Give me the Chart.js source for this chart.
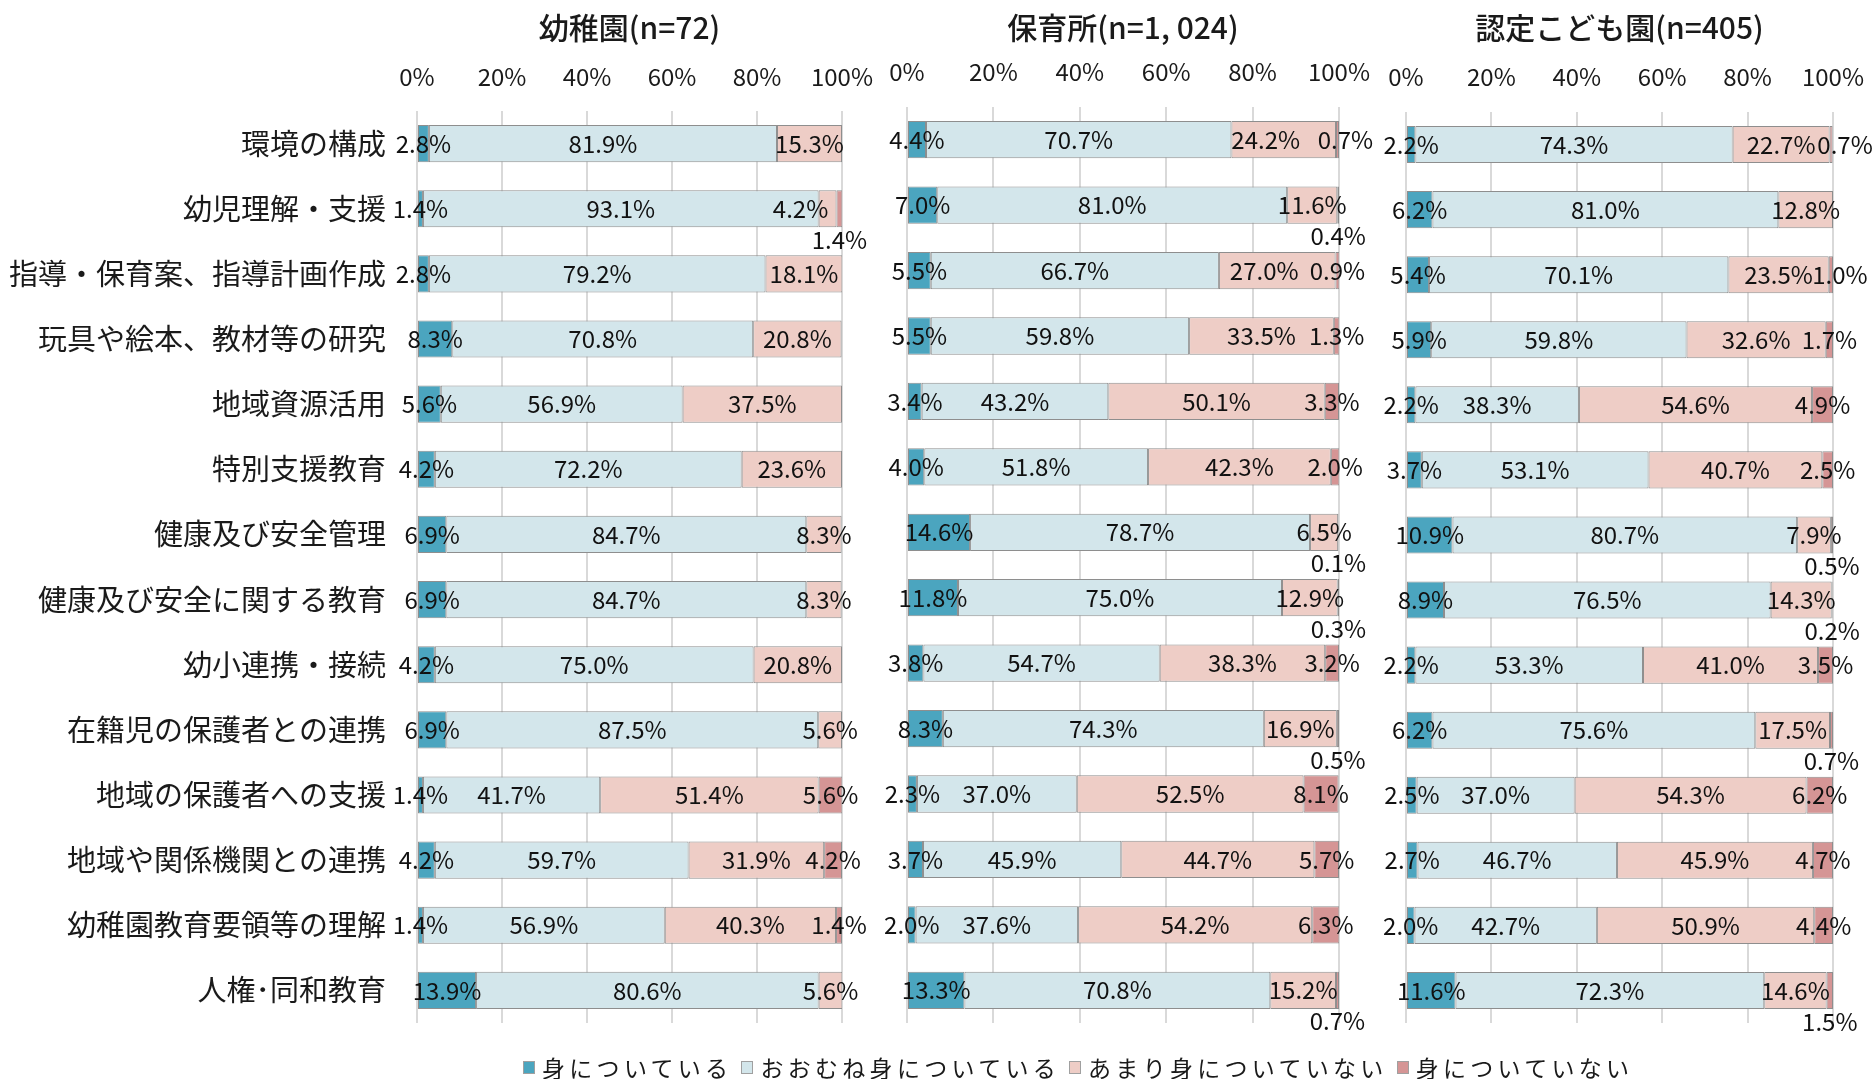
<!DOCTYPE html>
<html><head><meta charset="utf-8">
<script src="https://cdn.jsdelivr.net/npm/chart.js@4.4.1/dist/chart.umd.min.js"></script>
<style>
html,body{margin:0;padding:0;background:#fff;width:1876px;height:1079px;overflow:hidden;font-family:"Noto Sans CJK JP",sans-serif;}
.panel{position:absolute;top:0;height:1079px;}
#legend{position:absolute;left:523px;top:1051px;height:32px;display:flex;align-items:center;white-space:nowrap;}
#legend .item{display:flex;align-items:center;margin-right:9px;}
#legend .box{width:12px;height:13px;box-sizing:border-box;border:1px solid #a0a0a0;margin-right:7px;}
#legend .txt{font-size:23px;letter-spacing:4.3px;color:#1a1a1a;line-height:32px;}
</style></head><body>
<div class="panel" style="left:0;width:875px"><canvas id="c1" width="875" height="1079"></canvas></div>
<div class="panel" style="left:870px;width:530px"><canvas id="c2" width="530" height="1079"></canvas></div>
<div class="panel" style="left:1376px;width:500px"><canvas id="c3" width="500" height="1079"></canvas></div>
<div id="legend"></div>
<script>
// ---- data ----
const categories = ['環境の構成','幼児理解・支援','指導・保育案、指導計画作成','玩具や絵本、教材等の研究','地域資源活用','特別支援教育','健康及び安全管理','健康及び安全に関する教育','幼小連携・接続','在籍児の保護者との連携','地域の保護者への支援','地域や関係機関との連携','幼稚園教育要領等の理解','人権･同和教育'];
const seriesNames = ['身についている','おおむね身についている','あまり身についていない','身についていない'];
const tickLabels = ['0%','20%','40%','60%','80%','100%'];
const panelTitles = ['幼稚園(n=72)','保育所(n=1, 024)','認定こども園(n=405)'];

const youchien_s1 = [2.8,1.4,2.8,8.3,5.6,4.2,6.9,6.9,4.2,6.9,1.4,4.2,1.4,13.9];
const youchien_s2 = [81.9,93.1,79.2,70.8,56.9,72.2,84.7,84.7,75.0,87.5,41.7,59.7,56.9,80.6];
const youchien_s3 = [15.3,4.2,18.1,20.8,37.5,23.6,8.3,8.3,20.8,5.6,51.4,31.9,40.3,5.6];
const youchien_s4 = [0,1.4,0,0,0,0,0,0,0,0,5.6,4.2,1.4,0];

const hoikusho_s1 = [4.4,7.0,5.5,5.5,3.4,4.0,14.6,11.8,3.8,8.3,2.3,3.7,2.0,13.3];
const hoikusho_s2 = [70.7,81.0,66.7,59.8,43.2,51.8,78.7,75.0,54.7,74.3,37.0,45.9,37.6,70.8];
const hoikusho_s3 = [24.2,11.6,27.0,33.5,50.1,42.3,6.5,12.9,38.3,16.9,52.5,44.7,54.2,15.2];
const hoikusho_s4 = [0.7,0.4,0.9,1.3,3.3,2.0,0.1,0.3,3.2,0.5,8.1,5.7,6.3,0.7];

const kodomoen_s1 = [2.2,6.2,5.4,5.9,2.2,3.7,10.9,8.9,2.2,6.2,2.5,2.7,2.0,11.6];
const kodomoen_s2 = [74.3,81.0,70.1,59.8,38.3,53.1,80.7,76.5,53.3,75.6,37.0,46.7,42.7,72.3];
const kodomoen_s3 = [22.7,12.8,23.5,32.6,54.6,40.7,7.9,14.3,41.0,17.5,54.3,45.9,50.9,14.6];
const kodomoen_s4 = [0.7,0,1.0,1.7,4.9,2.5,0.5,0.2,3.5,0.7,6.2,4.7,4.4,1.5];

// ---- style ----
const colors = ['#4BA5BF','#D3E6EB','#EECDC6','#D59595'];
const FONT = '"Noto Sans CJK JP", "Noto Sans", sans-serif';

// label placement tweaks (style only): labels drawn under the bar, and horizontal nudges
const belowP1 = [[],[],[],[1]];
const belowP2 = [[],[],[],[1,6,7,9,13]];
const belowP3 = [[],[],[],[6,7,9,13]];
const nudgeP1 = [[2,1,-27]];
const nudgeP2 = [[2,0,-18],[3,0,8],[2,2,-13]];
const nudgeP3 = [[3,0,14],[3,2,9]];

const segLabels = {
  id:'segLabels',
  afterDatasetsDraw(chart, args, opts){
    const ctx = chart.ctx;
    ctx.save();
    ctx.font = '24px ' + FONT;
    ctx.fillStyle = '#111';
    ctx.textAlign = 'center';
    ctx.textBaseline = 'middle';
    chart.data.datasets.forEach((ds, di) => {
      const meta = chart.getDatasetMeta(di);
      meta.data.forEach((el, i) => {
        const v = ds.data[i];
        if (!v) return;
        let x = (el.x + el.base) / 2, y = el.y;
        if ((opts.below[di] || []).includes(i)) y += 31;
        const n = opts.nudge.find(a => a[0] === di && a[1] === i);
        if (n) x += n[2];
        ctx.fillText(v.toFixed(1) + '%', x, y);
      });
    });
    ctx.restore();
  }
};

function makeChart(id, title, series, cfg){
  const datasets = series.map((d, k) => ({
    label: seriesNames[k],
    data: d,
    backgroundColor: colors[k],
    borderColor: '#8e8e8e',
    borderWidth: (c) => (c.raw ? 1 : 0),
    borderSkipped: false,
    barPercentage: 0.57,
    categoryPercentage: 1.0
  }));
  return new Chart(document.getElementById(id), {
    type: 'bar',
    data: { labels: categories, datasets },
    plugins: [segLabels],
    options: {
      indexAxis: 'y',
      responsive: false,
      animation: false,
      layout: { padding: { left: cfg.padLeft, right: cfg.padRight, top: 0, bottom: 1079 - 1023 } },
      plugins: {
        legend: { display: false },
        tooltip: { enabled: false },
        title: {
          display: true, text: title, fullSize: false,
          color: '#1a1a1a',
          font: { family: FONT, size: 30, weight: '500' },
          padding: { top: 10, bottom: 0 }
        },
        segLabels: { below: cfg.below, nudge: cfg.nudge }
      },
      scales: {
        x: {
          position: 'top', stacked: true, min: 0, max: 100,
          afterFit: (s) => { s.height = cfg.top - 46; s.paddingLeft = 0; s.paddingRight = 0; },
          ticks: {
            stepSize: 20, padding: cfg.tickPad, color: '#1a1a1a',
            font: { family: FONT, size: 24 },
            callback: (v) => tickLabels[Math.round(v / 20)]
          },
          grid: { color: '#D9D9D9', lineWidth: 2, drawTicks: false },
          border: { display: false }
        },
        y: {
          stacked: true,
          display: cfg.showY,
          afterFit: (s) => { if (cfg.showY) s.width = cfg.yWidth; s.paddingTop = 0; s.paddingBottom = 0; },
          ticks: { padding: 31, color: '#1a1a1a', font: { family: FONT, size: 29 } },
          grid: { display: false, drawTicks: false },
          border: { display: false }
        }
      }
    }
  });
}

makeChart('c1', panelTitles[0], [youchien_s1, youchien_s2, youchien_s3, youchien_s4],
  { padLeft: 0, padRight: 33, top: 111, tickPad: 20, showY: true, yWidth: 417, below: belowP1, nudge: nudgeP1 });
makeChart('c2', panelTitles[1], [hoikusho_s1, hoikusho_s2, hoikusho_s3, hoikusho_s4],
  { padLeft: 37, padRight: 61, top: 107, tickPad: 21, showY: false, below: belowP2, nudge: nudgeP2 });
makeChart('c3', panelTitles[2], [kodomoen_s1, kodomoen_s2, kodomoen_s3, kodomoen_s4],
  { padLeft: 30, padRight: 43, top: 112, tickPad: 21, showY: false, below: belowP3, nudge: nudgeP3 });

// legend
const lg = document.getElementById('legend');
seriesNames.forEach((n, k) => {
  const it = document.createElement('div'); it.className = 'item';
  const b = document.createElement('span'); b.className = 'box'; b.style.background = colors[k];
  const t = document.createElement('span'); t.className = 'txt'; t.textContent = n;
  it.appendChild(b); it.appendChild(t); lg.appendChild(it);
});
</script>
</body></html>
